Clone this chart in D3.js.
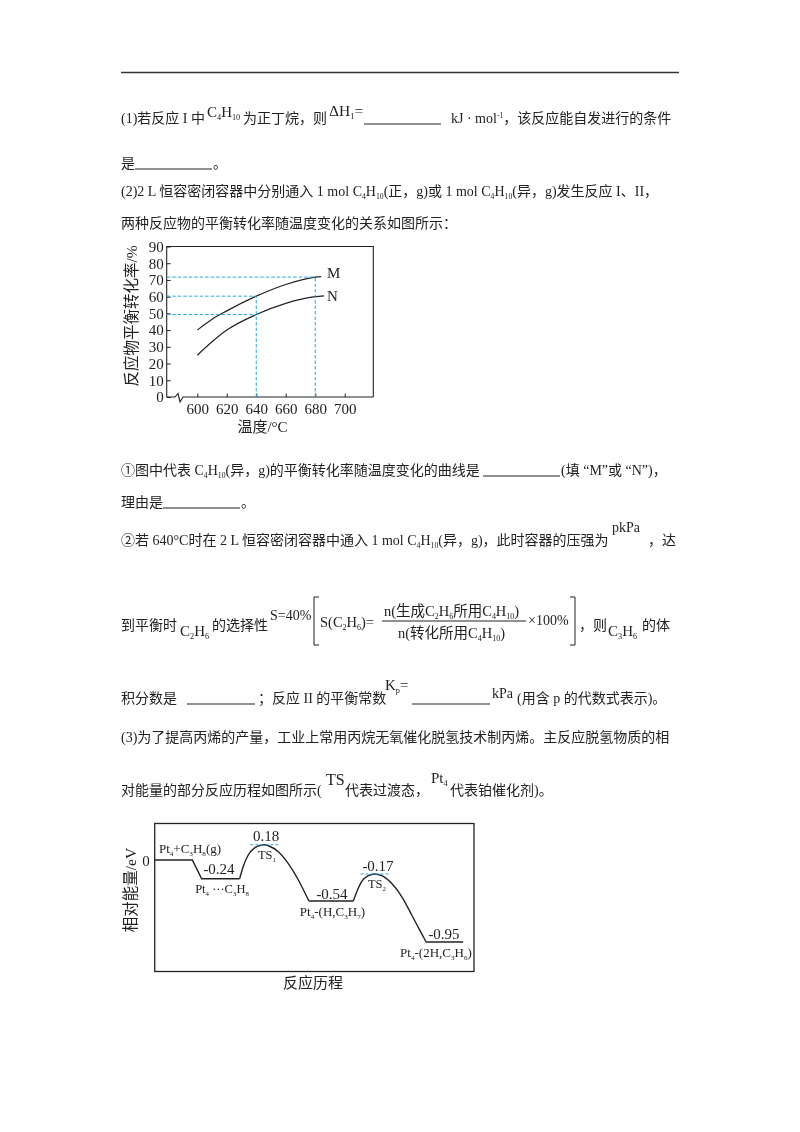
<!DOCTYPE html>
<html><head><meta charset="utf-8">
<script src="https://cdn.jsdelivr.net/npm/d3@7/dist/d3.min.js"></script>
<style>
html,body{margin:0;padding:0;background:#fff}
svg{display:block;filter:blur(0.35px)}
text{font-family:"Liberation Serif","Noto Sans CJK SC",serif;fill:#222}
</style></head><body>
<svg id="page" width="800" height="1132"></svg>
<script>
// ---------- chart 1 data
const tempTicks = [600,620,640,660,680,700];
const rateTicks = [0,10,20,30,40,50,60,70,80,90];
const curveMTemp = [600,610,620,640,660,680,684];
const curveMRate = [40,46.5,51.5,60.3,67.3,71.7,72];
const curveNTemp = [600,610,620,640,660,680,686];
const curveNRate = [25,33,40,49.3,56,60,60.5];
const guideTemps = [640,680];
const guideTempTop = [60.3,71.7];
const guideRates = [71.7,60.3,49.3];
const guideRateEnd = [680,640,640];
// ---------- chart 2 data
const reactionCoord = [0,11.8,14.7,26.6,27.7,29.3,31.4,33.5,34.5,35.6,38.7,41.8,45,47.1,48.3,62.2,63.3,64.8,66.9,69,71.1,74.2,77.4,80.5,83.1,85,96.6];
const energyEV = [0,0,-0.24,-0.24,-0.081,0.059,0.145,0.176,0.18,0.168,0.098,-0.04,-0.257,-0.436,-0.54,-0.54,-0.415,-0.28,-0.195,-0.17,-0.195,-0.302,-0.483,-0.68,-0.837,-0.95,-0.95];
const humpSpans = [[3,14],[15,25]];
const plateauSpans = [[0,3],[14,15],[25,26]];
const energyLevels = [0.18,-0.17];
const energyLevelCoord = [34.5,69];
const energyScaleDomain = [0.18,0,-0.17,-0.24,-0.54,-0.95];

const svg = d3.select('#page');
const INK = '#222', CYAN = '#2aa9cf';

// rich text: _{sub} and ^{sup}
function rich(sel, str, fs){
  const parts = str.split(/([_^]\{[^}]*\})/).filter(s=>s!=='');
  let pending = 0;
  parts.forEach(p=>{
    const m = p.match(/^([_^])\{(.*)\}$/);
    const t = sel.append('tspan');
    if(m){
      const d = m[1]==='_' ? fs*0.2 : -fs*0.35;
      t.text(m[2]).attr('font-size',fs*0.55).attr('dy',pending+d);
      pending = -d;
    } else {
      t.text(p); if(pending){t.attr('dy',pending);} pending = 0;
    }
  });
}
function put(x,y,str,fs=14,anchor='start',extra){
  const t = svg.append('text').attr('x',x).attr('y',y).attr('font-size',fs).attr('text-anchor',anchor);
  rich(t,str,fs);
  if(extra) extra(t);
  return t;
}
function rule(x1,y1,x2,y2,w=1.2,c='#222'){
  svg.append('line').attr('x1',x1).attr('y1',y1).attr('x2',x2).attr('y2',y2).attr('stroke',c).attr('stroke-width',w);
}
// ---------- page text
rule(121,72.5,679,72.5,1.6,'#333');
const bodyText = [
 [121,123,'(1)若反应 I 中'],[207,117,'C_{4}H_{10}',15],[243,123,'为正丁烷，则'],[329,116,'ΔH_{1}=',15.5],[451,123,'kJ · mol^{-1}，该反应能自发进行的条件'],
 [121,168,'是'],[213,168,'。'],
 [121,196,'(2)2 L 恒容密闭容器中分别通入 1 mol C_{4}H_{10}(正，g)或 1 mol C_{4}H_{10}(异，g)发生反应 I、II，'],
 [121,228,'两种反应物的平衡转化率随温度变化的关系如图所示：'],
 [121,475,'①图中代表 C_{4}H_{10}(异，g)的平衡转化率随温度变化的曲线是'],[561,475,'(填 “M”或 “N”)，'],
 [121,507,'理由是'],[241,507,'。'],
 [121,545,'②若 640°C时在 2 L 恒容密闭容器中通入 1 mol C_{4}H_{10}(异，g)，此时容器的压强为'],[612,532,'pkPa'],[648,545,'，达'],
 [121,630,'到平衡时'],[180,636,'C_{2}H_{6}',15],[212,630,'的选择性'],[270,620,'S=40%'],[579,630,'，则'],[608,636,'C_{3}H_{6}',15],[642,630,'的体'],
 [121,703,'积分数是'],[258,703,'；反应 II 的平衡常数'],[385,690,'K_{p}=',15],[492,698,'kPa'],[517,703,'(用含 p 的代数式表示)。'],
 [121,742,'(3)为了提高丙烯的产量，工业上常用丙烷无氧催化脱氢技术制丙烯。主反应脱氢物质的相'],
 [121,795,'对能量的部分反应历程如图所示('],[326,785,'TS',16],[345,795,'代表过渡态，'],[431,783,'Pt_{4}',15],[450,795,'代表铂催化剂)。']
];
bodyText.forEach(d=>put(d[0],d[1],d[2],d[3]||14));
const blanks = [[364,441,124],[135,212,169],[483,560,476],[163,240,508],[187,255,704],[412,490,704]];
blanks.forEach(b=>rule(b[0],b[2],b[1],b[2],1.2));
// formula
put(320,627,'S(C_{2}H_{6})=',14.5);
put(384,616,'n(生成C_{2}H_{6}所用C_{4}H_{10})',14.5);
put(398,638,'n(转化所用C_{4}H_{10})',14.5);
rule(382,621,526,621,1);
put(528,625,'×100%',14);
svg.append('path').attr('fill','none').attr('stroke',INK).attr('stroke-width',1)
  .attr('d',d3.line()([[319,597],[314,597],[314,645],[319,645]]));
svg.append('path').attr('fill','none').attr('stroke',INK).attr('stroke-width',1)
  .attr('d',d3.line()([[570,597],[575,597],[575,645],[570,645]]));

// ---------- chart 1
const x1 = d3.scaleLinear().domain([600,700]).range([197.3,344.7]);
const y1 = d3.scaleLinear().domain([0,90]).range([397,246.5]);
const g1 = svg.append('g');
const axisLeft = d3.axisLeft(y1).tickValues(rateTicks).tickSize(-4).tickPadding(3);
const gy = g1.append('g').attr('transform','translate(166.7,0)').call(axisLeft);
gy.select('.domain').attr('d','M0,397V246');
gy.selectAll('line').attr('stroke',INK);
gy.selectAll('.domain').attr('stroke',INK).attr('stroke-width',1.1);
gy.selectAll('text').attr('font-size',15).attr('font-family','Liberation Serif').attr('fill',INK);
const axisBottom = d3.axisBottom(x1).tickValues(tempTicks).tickSize(-3.5).tickPadding(6);
const gx = g1.append('g').attr('transform','translate(0,397)').call(axisBottom);
gx.select('.domain').remove();
gx.selectAll('line').attr('stroke',INK);
gx.selectAll('text').attr('font-size',15).attr('font-family','Liberation Serif').attr('fill',INK);
g1.append('path').attr('fill','none').attr('stroke',INK).attr('stroke-width',1.1)
  .attr('d','M166.7,397H175L178,393.5L180,402L183,397H373.3');
g1.append('path').attr('fill','none').attr('stroke',INK).attr('stroke-width',1.1)
  .attr('d',`M166.7,${y1(90)}H373.3V397`);
const lineGen = d3.line().x(d=>x1(d[0])).y(d=>y1(d[1])).curve(d3.curveMonotoneX);
[[curveMTemp,curveMRate],[curveNTemp,curveNRate]].forEach(([t,r])=>{
  g1.append('path').attr('fill','none').attr('stroke',INK).attr('stroke-width',1.2)
    .attr('d',lineGen(t.map((v,i)=>[v,r[i]])));
});
guideRates.forEach((r,i)=>{
  g1.append('line').attr('x1',166.7).attr('x2',x1(guideRateEnd[i])).attr('y1',y1(r)).attr('y2',y1(r))
    .attr('stroke',CYAN).attr('stroke-width',1).attr('stroke-dasharray','3.5 2');
});
guideTemps.forEach((t,i)=>{
  g1.append('line').attr('x1',x1(t)).attr('x2',x1(t)).attr('y1',397).attr('y2',y1(guideTempTop[i]))
    .attr('stroke',CYAN).attr('stroke-width',1).attr('stroke-dasharray','3.5 2');
});
put(327,278,'M',15); put(327,301,'N',15);
put(262.5,432,'温度/°C',15,'middle');
put(0,0,'反应物平衡转化率/%',15.5,'middle',t=>t.attr('transform','translate(137,316) rotate(-90)').attr('x',null).attr('y',null));

// ---------- chart 2
const x2 = d3.scaleLinear().domain([0,100]).range([154.7,474]);
const yPix = [844.7,860,874,878.7,901,942];
const y2 = d3.scaleLinear().domain(energyScaleDomain).range(yPix);
svg.append('rect').attr('x',154.7).attr('y',823.5).attr('width',319.3).attr('height',148)
  .attr('fill','none').attr('stroke',INK).attr('stroke-width',1.3);
const pts = reactionCoord.map((c,i)=>[c,energyEV[i]]);
const humpLine = d3.line().x(d=>x2(d[0])).y(d=>y2(d[1])).curve(d3.curveMonotoneX);
const flatLine = d3.line().x(d=>x2(d[0])).y(d=>y2(d[1]));
humpSpans.forEach(([a,b])=>{
  svg.append('path').attr('fill','none').attr('stroke',INK).attr('stroke-width',1.4)
    .attr('d',humpLine(pts.slice(a,b+1)));
});
plateauSpans.forEach(([a,b])=>{
  svg.append('path').attr('fill','none').attr('stroke',INK).attr('stroke-width',1.4)
    .attr('d',flatLine(pts.slice(a,b+1)));
});
energyLevels.forEach((e,i)=>{
  svg.append('line').attr('x1',x2(energyLevelCoord[i])-14.5).attr('x2',x2(energyLevelCoord[i])+14.5)
    .attr('y1',y2(e)).attr('y2',y2(e)).attr('stroke',CYAN).attr('stroke-width',1.1).attr('stroke-dasharray','3 2');
});
put(146,866,'0',15,'middle');
put(0,0,'相对能量/eV',15.5,'middle',t=>t.attr('transform','translate(136,890) rotate(-90)').attr('x',null).attr('y',null));
const chart2Labels = [
 [266,841,'0.18',15],[219,874,'-0.24',15],[332,899,'-0.54',15],[378,871,'-0.17',15],[444,939,'-0.95',15],
 [190,853,'Pt_{4}+C_{3}H_{8}(g)',13],[222,893,'Pt_{4} ···C_{3}H_{8}',12.5],[332.5,916,'Pt_{4}-(H,C_{3}H_{7})',13],
 [436,957,'Pt_{4}-(2H,C_{3}H_{6})',13],[267,859,'TS_{1}',12.5],[377,888,'TS_{2}',12.5]
];
chart2Labels.forEach(d=>put(d[0],d[1],d[2],d[3],'middle'));
put(313,988,'反应历程',15,'middle');
</script>
</body></html>
